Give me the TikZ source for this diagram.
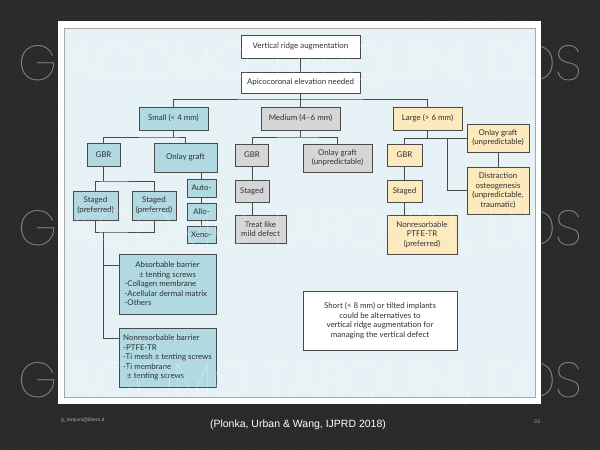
\documentclass[tikz,border=0pt]{standalone}
\usepackage{fontspec}
\usepackage{graphicx}
\setmainfont{Lato}
\newfontfamily\footfont{Liberation Sans}
\IfFontExistsTF{Poppins Thin}{\newfontfamily\wmfont{Poppins Thin}}{%
 \IfFontExistsTF{Poppins ExtraLight}{\newfontfamily\wmfont{Poppins ExtraLight}}{%
  \IfFontExistsTF{Lato Hairline}{\newfontfamily\wmfont{Lato Hairline}}{%
   \IfFontExistsTF{Poppins Light}{\newfontfamily\wmfont{Poppins Light}}{%
    \newfontfamily\wmfont{Poppins}}}}}
\usetikzlibrary{patterns}
\definecolor{bgdark}{HTML}{2C2C2C}
\definecolor{bgdot}{HTML}{1A1A1A}
\definecolor{panel}{HTML}{E6F2F5}
\definecolor{sblue}{HTML}{B0D9E2}
\definecolor{mgray}{HTML}{D6D6D6}
\definecolor{lyel}{HTML}{FCE9BD}
\definecolor{edge}{HTML}{4A4A4A}
\definecolor{txt}{HTML}{303030}
\definecolor{wmgray}{HTML}{8A8A8A}
\begin{document}
\begin{tikzpicture}[x=1pt,y=-1pt,
  box/.style={draw=edge, line width=0.8pt, font=\fontsize{7.9}{9.5}\selectfont, text=txt, align=center, inner sep=1pt},
  wbox/.style={box, fill=white},
  sbox/.style={box, fill=sblue},
  mbox/.style={box, fill=mgray},
  lbox/.style={box, fill=lyel},
  conn/.style={draw=edge, line width=0.8pt},
  wmark/.style={anchor=base west, inner sep=0pt}]
\useasboundingbox (0,0) rectangle (600,450);
% slide background
\fill[bgdark] (0,0) rectangle (600,450);
\fill[pattern=dots, pattern color=bgdot] (0,0) rectangle (600,450);
% watermark on the dark background
\node[wmark, text=wmgray] (wm1) at (18,80) {\resizebox{564pt}{35pt}{\wmfont GIACOMO TARQUINI, DDS}};
\node[wmark, text=wmgray] (wm2) at (18,245) {\resizebox{564pt}{35pt}{\wmfont GIACOMO TARQUINI, DDS}};
\node[wmark, text=wmgray] (wm3) at (18,397) {\resizebox{564pt}{35pt}{\wmfont GIACOMO TARQUINI, DDS}};
% frame and panel
\fill[white] (58,21) rectangle (541,404);
\filldraw[fill=panel, draw=gray!70, line width=0.6pt] (64,28) rectangle (535,397);

% top
\node[wbox, minimum width=119, minimum height=23] (top) at (300.5,46.5) {Vertical ridge augmentation};
\node[wbox, minimum width=119, minimum height=21] (apico) at (300.5,82.5) {Apicocoronal elevation needed};
\node[sbox, minimum width=69, minimum height=23] (small) at (173.5,118.5) {Small (< 4 mm)};
\node[mbox, minimum width=79, minimum height=23] (medium) at (300.5,118.5) {Medium (4–6 mm)};
\node[lbox, minimum width=69, minimum height=23] (large) at (427.5,118.5) {Large (> 6 mm)};
\coordinate (tj) at (300.5,99);
\draw[conn] (top) -- (apico);
\draw[conn] (apico.south) -- (tj);
\draw[conn] (small.north) |- (tj) -| (large.north);
\draw[conn] (tj) -- (medium.north);

% small branch
\node[sbox, minimum width=33, minimum height=23] (sGBR) at (103.5,154.5) {GBR};
\node[sbox, minimum width=63, minimum height=29] (sOnlay) at (185.5,157.5) {Onlay graft};
\coordinate (sj) at (173.5,137);
\draw[conn] (small.south) -- (sj);
\draw[conn] (sGBR.north) |- (sj) -| (sOnlay.north);
\node[sbox, minimum width=45, minimum height=29] (st1) at (95.5,205.5) {Staged\\(preferred)};
\node[sbox, minimum width=44, minimum height=29] (st2) at (154,205.5) {Staged\\(preferred)};
\coordinate (gj) at (103.5,181);
\draw[conn] (sGBR.south) -- (gj);
\draw[conn] (st1.north) |- (gj) -| (st2.north);
\coordinate (bj) at (103,232);
\draw[conn] (st1.south) |- (bj) -| (st2.south);
\node[sbox, minimum width=29, minimum height=18] (auto) at (201.5,188) {Auto-};
\node[sbox, minimum width=29, minimum height=17] (allo) at (201.5,211.5) {Allo-};
\node[sbox, minimum width=29, minimum height=17] (xeno) at (201.5,234.5) {Xeno-};
\draw[conn] ([xshift=16pt]sOnlay.south) -- (auto.north);
\draw[conn] (auto) -- (allo);
\draw[conn] (allo) -- (xeno);
\node[sbox, minimum width=97, minimum height=60, align=left] (absorb) at (167.5,284)
  {\makebox[86pt]{Absorbable barrier}\\\makebox[86pt]{± tenting screws}\\-Collagen membrane\\-Acellular dermal matrix\\-Others};
\node[sbox, minimum width=97, minimum height=59, align=left, inner xsep=0.5pt] (nonres) at (167.5,357.5)
  {Nonresorbable barrier\\-PTFE-TR\\-Ti mesh ± tenting screws\\-Ti membrane\\\hspace*{4pt}± tenting screws};
\draw[conn] (bj) |- ([yshift=-12pt]absorb.north west);
\draw[conn] (bj) |- ([yshift=-11pt]nonres.north west);

% medium branch
\node[mbox, minimum width=33, minimum height=22] (mGBR) at (252,155) {GBR};
\node[mbox, minimum width=69, minimum height=28] (mOnlay) at (337.5,158) {Onlay graft\\(unpredictable)};
\coordinate (mj) at (300.5,137);
\draw[conn] (medium.south) -- (mj);
\draw[conn] (mGBR.north) |- (mj) -| (mOnlay.north);
\node[mbox, minimum width=34, minimum height=22] (mStaged) at (252,191) {Staged};
\node[mbox, minimum width=51, minimum height=28] (mTreat) at (260.5,229) {Treat like\\mild defect};
\draw[conn] (mGBR) -- (mStaged);
\draw[conn] (mStaged.south) -- (mStaged.south |- mTreat.north);

% large branch
\node[lbox, minimum width=35, minimum height=22] (lGBR) at (404.5,155) {GBR};
\node[lbox, minimum width=35, minimum height=22] (lStaged) at (404.5,191) {Staged};
\node[lbox, minimum width=70, minimum height=39] (lNonres) at (422,234.5) {Nonresorbable\\PTFE-TR\\(preferred)};
\node[lbox, minimum width=62, minimum height=28] (lOnlay) at (498,138) {Onlay graft\\(unpredictable)};
\node[lbox, minimum width=62, minimum height=47] (distr) at (498,190.5) {Distraction\\osteogenesis\\(unpredictable,\\traumatic)};
\coordinate (lk) at (447,138);
\draw[conn] (large.south) -- (large.south |- lOnlay.west);
\draw[conn] (lGBR.north) |- (lOnlay.west);
\draw[conn] (lk) |- (distr.west);
\draw[conn] (lOnlay) -- (distr);
\draw[conn] (lGBR) -- (lStaged);
\draw[conn] (lStaged.south) -- (lStaged.south |- lNonres.north);

% note
\node[wbox, minimum width=154, minimum height=59] (short) at (380,320.5)
  {Short (< 8 mm) or tilted implants\\could be alternatives to\\vertical ridge augmentation for\\managing the vertical defect};

% footer
\node[anchor=west, inner sep=0pt, font=\footfont\fontsize{5}{6}\selectfont, text=gray!70] (mail) at (61,420) {g\_tarquini@libero.it};
\node[inner sep=0pt, font=\footfont\fontsize{10.5}{12}\selectfont, text=white] (cite) at (298,425) {(Plonka, Urban \& Wang, IJPRD 2018)};
\node[inner sep=0pt, font=\footfont\fontsize{5}{6}\selectfont, text=gray!70] (page) at (537,422) {33};

% faint watermark over the panel
\begin{scope}
\clip (64,28) rectangle (535,397);
\node[wmark, text=white, opacity=0.3] (wp1) at (18,80) {\resizebox{564pt}{35pt}{\wmfont GIACOMO TARQUINI, DDS}};
\node[wmark, text=white, opacity=0.3] (wp2) at (18,245) {\resizebox{564pt}{35pt}{\wmfont GIACOMO TARQUINI, DDS}};
\node[wmark, text=white, opacity=0.3] (wp3) at (18,397) {\resizebox{564pt}{35pt}{\wmfont GIACOMO TARQUINI, DDS}};
\end{scope}
\end{tikzpicture}
\end{document}
